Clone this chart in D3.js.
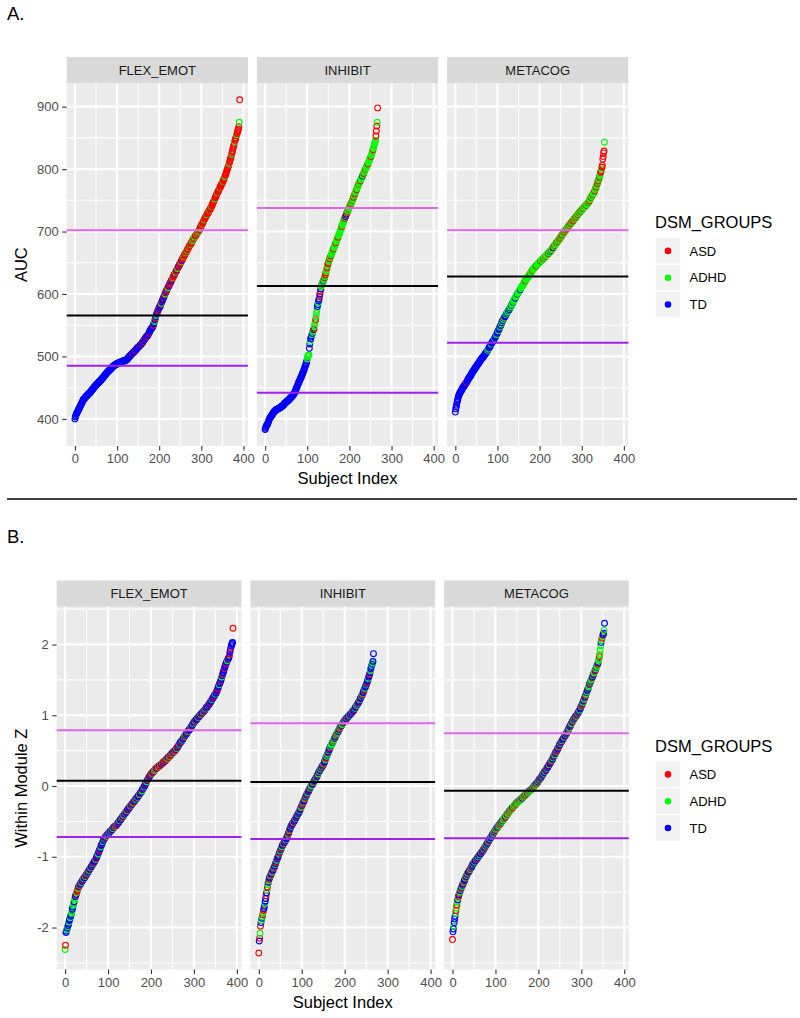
<!DOCTYPE html>
<html>
<head>
<meta charset="utf-8">
<script src="https://cdn.jsdelivr.net/npm/d3@7"></script>
<style>
body { margin: 0; background: #fff; }
svg { display: block; }
</style>
</head>
<body>
<script>
var w = 800
var h = 1018
var font = "'Liberation Sans', Arial, Helvetica, sans-serif"

var facets = ["FLEX_EMOT", "INHIBIT", "METACOG"]
var groupNames = ["ASD", "ADHD", "TD"]
var groupCodes = ["A", "H", "T"]
var groupColors = {A: "#FF0000", H: "#00FF00", T: "#0000FF"}
var lineColors = ["#E066EE", "#000000", "#A020F0"] // upper, middle, lower

var xTicks = [0, 100, 200, 300, 400]
var aucTicks = [400, 500, 600, 700, 800, 900]
var zTicks = [-2, -1, 0, 1, 2]

// ---- A. AUC, sorted per module (one value per subject) ----
var aucFlex = [
400,403,405,407,409,410,411,413,414,416, 417,418,419,421,422,424,425,426,428,430,
431,431,432,433,434,435,435,436,437,438, 438,439,440,440,441,442,442,443,444,445,
446,447,447,448,449,450,451,452,452,453, 454,455,455,456,457,457,458,459,460,460,
461,462,462,463,464,465,466,466,467,468, 469,470,471,471,472,473,474,475,475,476,
477,477,478,479,479,480,481,481,482,483, 484,484,485,485,486,486,487,487,487,488,
488,489,489,489,490,490,490,490,491,491, 491,491,492,492,492,493,493,493,493,494,
494,494,494,495,495,496,497,498,499,500, 500,501,502,503,503,504,505,505,506,507,
507,508,509,509,510,511,512,512,513,514, 515,515,516,517,517,518,519,519,520,521,
522,523,524,525,526,527,528,529,530,531, 532,532,533,534,535,537,537,539,541,542,
543,544,545,546,547,548,550,552,554,556, 559,561,564,566,568,570,572,573,575,577,
578,580,580,582,584,585,587,589,590,592, 594,595,597,599,600,602,603,605,606,608,
609,610,612,613,615,616,617,619,620,622, 623,624,626,627,628,630,631,632,634,635,
636,637,639,640,641,643,644,645,647,648, 649,651,652,653,654,656,657,658,660,661,
662,664,665,666,667,668,670,671,672,673, 675,676,677,678,679,680,681,683,684,685,
687,688,689,690,691,692,693,694,695,696, 697,698,699,700,701,702,704,705,707,708,
710,711,712,713,715,716,718,719,720,722, 723,724,725,727,728,729,730,731,733,734,
735,736,737,738,740,741,743,745,746,748, 749,751,752,754,755,757,759,760,762,763,
764,766,767,769,770,771,773,774,776,777, 778,780,781,783,785,786,788,790,792,794,
796,798,800,802,804,806,809,811,814,816, 818,821,824,826,829,832,835,838,841,844,
846,848,850,853,855,857,860,862,864,868, 875,911]

var aucInhibit = [
383,385,387,389,390,391,392,394,396,398, 400,401,402,403,404,405,406,407,408,409,
410,411,412,413,413,414,414,415,415,416, 416,416,417,417,417,418,418,419,419,420,
420,421,421,422,422,423,425,425,426,426, 427,427,428,429,429,430,430,431,432,433,
433,434,435,435,436,437,438,439,440,441, 442,443,445,447,449,450,452,454,455,457,
459,460,462,463,465,466,468,469,471,473, 474,476,478,480,482,484,486,488,490,493,
496,500,501,502,503,513,520,524,528,531, 533,535,537,539,541,543,544,549,553,556,
559,564,570,575,580,583,586,589,592,596, 600,604,608,612,614,616,617,619,621,622,
624,626,628,631,634,636,639,642,645,648, 650,652,654,656,658,660,661,663,665,666,
668,670,672,674,675,677,679,681,682,684, 686,688,689,691,693,695,696,698,700,702,
704,706,708,710,712,714,716,718,719,721, 723,724,726,728,730,731,733,734,736,737,
739,740,742,743,745,746,748,750,751,753, 755,757,758,760,762,764,765,767,769,771,
773,774,776,777,779,780,781,783,784,786, 787,789,790,792,793,795,797,798,800,801,
803,804,806,807,808,810,812,813,815,817, 818,820,822,824,826,829,831,833,836,839,
841,843,846,853,861,869,875,898]

var aucMeta = [
411,416,419,422,426,429,432,435,437,439, 440,442,443,444,445,446,448,449,450,451,
452,453,454,455,456,457,458,459,460,462, 463,464,465,466,467,468,469,470,471,473,
474,475,476,477,478,479,480,481,482,483, 484,485,486,487,488,489,490,491,492,493,
494,495,496,497,498,498,499,500,501,502, 503,504,505,506,507,508,509,510,511,512,
514,515,516,517,518,520,521,522,523,524, 525,526,527,529,530,531,533,534,535,537,
538,540,541,543,544,546,547,549,550,552, 554,556,557,558,559,561,562,563,564,565,
567,568,569,570,571,572,573,574,575,577, 578,579,580,582,583,584,586,587,588,590,
591,592,593,595,596,597,599,600,601,602, 603,604,605,606,607,609,610,611,612,613,
614,615,616,618,619,620,621,622,623,624, 625,626,627,628,629,630,631,632,633,634,
635,636,637,638,639,640,641,641,642,643, 644,645,645,646,647,648,648,649,650,650,
651,652,652,653,654,654,655,656,656,657, 658,658,659,660,660,661,662,663,663,664,
665,665,666,667,667,668,669,669,670,671, 672,673,674,675,676,677,678,679,680,681,
682,683,683,684,685,686,687,688,689,690, 691,692,693,694,695,696,697,698,699,700,
701,702,702,703,704,705,706,707,708,709, 710,710,711,712,713,714,715,715,716,717,
718,719,720,721,721,722,723,724,725,726, 727,727,728,729,730,731,731,732,733,734,
735,735,736,737,738,738,739,740,740,741, 742,742,743,744,745,746,747,748,749,751,
752,753,755,756,757,758,759,760,761,762, 764,765,767,769,771,773,775,777,779,781,
783,785,787,789,792,795,797,800,803,806, 816,820,826,829,843]

// group of each subject in the same order (A = ASD, H = ADHD, T = TD)
var aucFlexGrp = [
"TTTTTTTTTT","TTTTTTTTTT","TTTTTTTTTT","TTTTTTTTTT","TTTTTTTTTT","TTTTTTTTTT","TTTTTTTTTT",
"TTTTTTTTTT","TTTTTTTTTT","TTTTTTTTTT","TTTTTTTTTT","TTTTTTTTTT","TTTTTTTTTT",
"TTTTTTTATT","TTTTATTTTT","TTTATTTTAT","TTATTTATTT","TATTTTATTT","TTTTTTATTH",
"TATHTTTATA","TATTAHTATT","ATTAHTATAT","AHATATAATA","TAHAAATAAH","AATAHATAAT",
"AAHATAAAHA","AAAHAAHAAA","HAAAHAAAAH","AHAAHHAAAH","AAHAHAAHAA","AAHAAAAHAA",
"AAAHAAAAAH","AAAAHAAAAA","AAHAAAAAHA","AAAAHAAAAA","AHAAAAHAAA","AAAAAAHAAA",
"AAHAAAAAAH","AAAAHAAAAA","HA"].join("")

var aucInhibitGrp = [
"TTTTTTTTTT","TTTTTTTTTT","TTTTTTTTTT","TTTTTTTTTT","TTTTTTTTTT",
"TTTTTTTTTT","TTTTTTTTTT","TTTTTTTTTT","TTTTTTTTTT","TTTTTTTTTT",
"HHHHHTTHTT","THTHHTAHHH","AHHHTTHTTA","TATHHTHHTH","HAHAAHHAHA","AHHAHHAHHH",
"HHAHHHHHAH","HHHAHHHHHH","HHAHHHHHHA","HTATHAHHAH","HHAHAHHAHH","AHHAHHHAHH",
"HHAHHHAHHH","HTHHAHHHAH","HHHHAHHHHH","HAHHHHAHHH","HHHAAAHA"].join("")

var aucMetaGrp = [
"TTTTTTTTTT","TTTTTTTTTT","TTTTTTTATT","TTTTTTTTTT","TTTTTTTTTT","TTTTTTTTTT","TTTTTTTTTT",
"TTTTTTTHTH","TTTTTHTTTT","TTTHTTTTHT","TTHTTTHTTH","THTTHTHATT","HTHTHHTHTH",
"THHTHHHTHH","HHTHHHHTHH","HHHHTHHHHH","HHHHHHAHHH","HHHHHHHHAH","HHHAHHHHHH",
"HHAHHHHHHH","HHHAHHHHHA","HHHHAHHHHH","HAHHHTHHAH","HHTAHHAHHH","AHHAHHHAHA",
"HHAHAHHHAH","AHHAHAHHAH","HAHHAHAHHA","AHAHHAHAHH","HAHHAHHAHH","AHHAHHHAHH",
"HAHHHAHHAH","HHAHHHAHHH","HAHHAHHAHA","HHAHHAAHAA","AAAAH"].join("")

// reference lines per module: upper, middle, lower
var aucLines = [[702, 565.6, 485], [737.6, 613, 441.8], [702, 628, 522]]

// ---- B. Within Module Z, sorted per module ----
var zFlex = [
-2.31,-2.25,-2.07,-2.05,-2.03,-2.01,-1.99,-1.97,-1.95,-1.92, -1.90,-1.88,-1.86,-1.84,-1.82,-1.80,-1.77,-1.74,-1.71,-1.68,
-1.66,-1.64,-1.61,-1.58,-1.56,-1.54,-1.53,-1.51,-1.49,-1.47, -1.45,-1.43,-1.42,-1.41,-1.40,-1.39,-1.38,-1.37,-1.36,-1.35,
-1.34,-1.33,-1.32,-1.31,-1.30,-1.30,-1.29,-1.28,-1.27,-1.26, -1.25,-1.24,-1.23,-1.22,-1.21,-1.20,-1.19,-1.18,-1.17,-1.16,
-1.15,-1.14,-1.13,-1.12,-1.11,-1.10,-1.09,-1.08,-1.07,-1.06, -1.05,-1.04,-1.03,-1.01,-1.00,-0.98,-0.97,-0.96,-0.94,-0.92,
-0.91,-0.89,-0.88,-0.86,-0.84,-0.83,-0.81,-0.80,-0.78,-0.77, -0.76,-0.75,-0.74,-0.73,-0.72,-0.71,-0.71,-0.70,-0.69,-0.68,
-0.68,-0.67,-0.66,-0.66,-0.65,-0.64,-0.64,-0.63,-0.62,-0.62, -0.61,-0.60,-0.60,-0.59,-0.58,-0.58,-0.57,-0.57,-0.56,-0.56,
-0.55,-0.54,-0.53,-0.53,-0.52,-0.51,-0.50,-0.49,-0.48,-0.48, -0.47,-0.46,-0.45,-0.44,-0.43,-0.43,-0.42,-0.41,-0.40,-0.39,
-0.38,-0.38,-0.37,-0.36,-0.35,-0.34,-0.33,-0.33,-0.32,-0.31, -0.30,-0.29,-0.29,-0.28,-0.27,-0.26,-0.25,-0.25,-0.24,-0.23,
-0.22,-0.22,-0.21,-0.20,-0.19,-0.18,-0.18,-0.17,-0.16,-0.15, -0.14,-0.14,-0.13,-0.12,-0.11,-0.10,-0.09,-0.08,-0.08,-0.07,
-0.05,-0.04,-0.03,-0.02,-0.01,0.00,0.01,0.03,0.04,0.05, 0.06,0.08,0.09,0.10,0.11,0.12,0.13,0.14,0.15,0.16,
0.17,0.17,0.18,0.19,0.19,0.20,0.21,0.21,0.22,0.23, 0.24,0.24,0.25,0.25,0.26,0.26,0.27,0.27,0.28,0.28,
0.29,0.29,0.30,0.30,0.31,0.31,0.32,0.33,0.33,0.34, 0.34,0.35,0.35,0.36,0.36,0.37,0.38,0.38,0.39,0.40,
0.40,0.41,0.41,0.42,0.43,0.43,0.44,0.45,0.45,0.46, 0.47,0.47,0.48,0.48,0.49,0.50,0.50,0.51,0.52,0.53,
0.53,0.54,0.55,0.56,0.57,0.58,0.59,0.60,0.61,0.62, 0.63,0.63,0.64,0.65,0.66,0.67,0.68,0.69,0.70,0.71,
0.72,0.73,0.73,0.74,0.75,0.76,0.77,0.78,0.79,0.80, 0.80,0.81,0.82,0.83,0.84,0.85,0.86,0.87,0.88,0.89,
0.90,0.91,0.91,0.92,0.93,0.93,0.94,0.95,0.96,0.96, 0.97,0.98,0.98,0.99,1.00,1.00,1.01,1.02,1.02,1.03,
1.04,1.04,1.05,1.06,1.06,1.07,1.08,1.09,1.10,1.11, 1.11,1.12,1.13,1.14,1.14,1.15,1.16,1.17,1.18,1.19,
1.20,1.21,1.22,1.23,1.24,1.25,1.26,1.27,1.28,1.29, 1.30,1.31,1.32,1.34,1.35,1.37,1.38,1.40,1.42,1.43,
1.45,1.46,1.48,1.50,1.52,1.54,1.56,1.58,1.60,1.62, 1.64,1.66,1.68,1.70,1.72,1.73,1.75,1.76,1.77,1.79,
1.80,1.81,1.83,1.86,1.90,1.93,1.95,1.98,2.00,2.02, 2.03,2.23]

var zInhibit = [
-2.36,-2.19,-2.15,-2.08,-1.98,-1.93,-1.90,-1.87,-1.85,-1.82, -1.79,-1.76,-1.73,-1.70,-1.66,-1.63,-1.59,-1.55,-1.51,-1.47,
-1.43,-1.39,-1.36,-1.34,-1.32,-1.30,-1.28,-1.27,-1.26,-1.24, -1.23,-1.22,-1.20,-1.19,-1.17,-1.16,-1.15,-1.13,-1.11,-1.10,
-1.08,-1.06,-1.05,-1.03,-1.01,-1.00,-0.98,-0.96,-0.95,-0.93, -0.92,-0.90,-0.89,-0.87,-0.86,-0.84,-0.83,-0.82,-0.81,-0.80,
-0.79,-0.78,-0.77,-0.76,-0.75,-0.73,-0.72,-0.70,-0.68,-0.67, -0.65,-0.63,-0.62,-0.60,-0.58,-0.57,-0.56,-0.55,-0.54,-0.53,
-0.52,-0.51,-0.50,-0.49,-0.48,-0.47,-0.46,-0.45,-0.43,-0.42, -0.41,-0.40,-0.39,-0.38,-0.37,-0.35,-0.34,-0.32,-0.31,-0.30,
-0.28,-0.27,-0.25,-0.24,-0.23,-0.21,-0.20,-0.18,-0.17,-0.15, -0.14,-0.13,-0.12,-0.11,-0.10,-0.08,-0.07,-0.06,-0.04,-0.03,
-0.02,-0.01,0.00,0.01,0.02,0.03,0.03,0.05,0.06,0.07, 0.08,0.09,0.10,0.11,0.12,0.13,0.15,0.16,0.17,0.19,
0.20,0.21,0.22,0.23,0.24,0.25,0.26,0.27,0.28,0.29, 0.30,0.31,0.32,0.34,0.36,0.37,0.39,0.41,0.42,0.44,
0.45,0.47,0.48,0.50,0.51,0.53,0.54,0.56,0.57,0.58, 0.59,0.60,0.62,0.63,0.64,0.65,0.67,0.68,0.69,0.71,
0.72,0.73,0.74,0.75,0.76,0.77,0.79,0.80,0.81,0.83, 0.84,0.85,0.85,0.86,0.87,0.88,0.89,0.90,0.91,0.92,
0.92,0.93,0.94,0.95,0.95,0.96,0.97,0.97,0.98,0.99, 0.99,1.00,1.01,1.01,1.02,1.03,1.03,1.04,1.05,1.06,
1.06,1.07,1.08,1.09,1.10,1.11,1.12,1.13,1.14,1.15, 1.16,1.17,1.18,1.19,1.20,1.22,1.23,1.24,1.25,1.27,
1.28,1.29,1.31,1.32,1.34,1.35,1.37,1.38,1.40,1.41, 1.43,1.44,1.46,1.48,1.50,1.52,1.54,1.56,1.58,1.60,
1.63,1.66,1.69,1.71,1.72,1.74,1.76,1.87]

var zMeta = [
-2.17,-2.06,-2.02,-1.98,-1.93,-1.88,-1.84,-1.80,-1.76,-1.72, -1.68,-1.64,-1.61,-1.58,-1.56,-1.54,-1.52,-1.50,-1.48,-1.46,
-1.45,-1.43,-1.42,-1.40,-1.39,-1.38,-1.36,-1.35,-1.33,-1.32, -1.30,-1.29,-1.28,-1.26,-1.25,-1.24,-1.23,-1.22,-1.21,-1.20,
-1.19,-1.18,-1.17,-1.16,-1.15,-1.14,-1.12,-1.11,-1.10,-1.09, -1.08,-1.08,-1.07,-1.06,-1.05,-1.04,-1.03,-1.03,-1.02,-1.01,
-1.00,-0.99,-0.98,-0.98,-0.97,-0.96,-0.95,-0.94,-0.93,-0.93, -0.92,-0.91,-0.90,-0.89,-0.88,-0.87,-0.86,-0.85,-0.84,-0.83,
-0.82,-0.81,-0.80,-0.79,-0.78,-0.77,-0.76,-0.75,-0.74,-0.73, -0.72,-0.71,-0.70,-0.69,-0.68,-0.67,-0.66,-0.65,-0.64,-0.63,
-0.62,-0.61,-0.60,-0.60,-0.59,-0.58,-0.57,-0.56,-0.56,-0.55, -0.54,-0.53,-0.53,-0.52,-0.51,-0.50,-0.49,-0.48,-0.48,-0.47,
-0.46,-0.45,-0.44,-0.44,-0.43,-0.42,-0.41,-0.40,-0.40,-0.39, -0.38,-0.37,-0.36,-0.35,-0.35,-0.34,-0.33,-0.32,-0.32,-0.31,
-0.30,-0.30,-0.29,-0.28,-0.28,-0.27,-0.26,-0.26,-0.25,-0.24, -0.24,-0.23,-0.23,-0.22,-0.21,-0.21,-0.20,-0.20,-0.19,-0.19,
-0.18,-0.18,-0.17,-0.17,-0.16,-0.15,-0.15,-0.14,-0.14,-0.13, -0.13,-0.12,-0.11,-0.11,-0.10,-0.10,-0.09,-0.08,-0.08,-0.07,
-0.07,-0.06,-0.06,-0.05,-0.05,-0.04,-0.03,-0.03,-0.02,-0.01, 0.00,0.00,0.01,0.02,0.02,0.03,0.04,0.04,0.05,0.06,
0.07,0.08,0.09,0.10,0.10,0.11,0.12,0.13,0.14,0.15, 0.16,0.17,0.18,0.19,0.20,0.21,0.21,0.22,0.23,0.24,
0.25,0.26,0.27,0.28,0.29,0.30,0.31,0.32,0.33,0.34, 0.35,0.36,0.37,0.38,0.40,0.41,0.42,0.43,0.44,0.46,
0.47,0.48,0.49,0.50,0.51,0.53,0.54,0.55,0.56,0.58, 0.59,0.60,0.61,0.62,0.63,0.64,0.65,0.66,0.67,0.68,
0.69,0.70,0.71,0.72,0.73,0.74,0.75,0.76,0.77,0.79, 0.80,0.81,0.82,0.84,0.85,0.86,0.87,0.88,0.90,0.91,
0.92,0.93,0.94,0.95,0.96,0.97,0.98,0.98,0.99,1.00, 1.01,1.02,1.03,1.04,1.05,1.06,1.07,1.09,1.10,1.12,
1.13,1.14,1.15,1.17,1.18,1.20,1.22,1.23,1.25,1.27, 1.28,1.30,1.32,1.33,1.35,1.37,1.38,1.40,1.42,1.44,
1.45,1.47,1.48,1.50,1.51,1.53,1.54,1.56,1.57,1.59, 1.60,1.62,1.63,1.64,1.66,1.68,1.69,1.71,1.72,1.74,
1.77,1.80,1.83,1.86,1.92,1.98,2.03,2.06,2.09,2.11, 2.13,2.14,2.16,2.20,2.30]

var zFlexGrp = [
"HATTHTHTTH","TTHTTHHTTH","HTHHTATHAA","HATAHTTAHT","TATHATTHAT","ATHTTAHTTA",
"HTTATHTATT","THATTATHTT","ATTHTTATHT","THTATTHATT","HTATHTTAHT","TAHTTATHTA",
"ATHTATTHAT","TATHTTAHTT","HATTHATTAT","TTAHTATTHA","TATTHTATHT","ATTHATTATH",
"TTATHTTATT","HTAATHTATA","ATHAATTAHA","AHATAATHAA","TAHAATAHTA","AATHATAAHT",
"ATAHTAATAH","TAATHTAATA","HTATATHTAT","TATHTTATHT","AHTTATHTAT","TTAHTATTHT",
"ATTHTATTAT","HTTATTHTAT","TAHTTATHTT","ATTHTATTAT","TTHTATTATT","HTTATTATTH",
"TTATTHTATT","TATTTATTHT","ATTATTATTT","TA"].join("")

var zInhibitGrp = [
"ATAHATHTHA","HATTHTTATH","AHTHATTHAT","THATTHATHT","ATHTATTHAT","HTATHTTAHT",
"TATHTTATHA","THATTHTATT","AHTTATHTAT","THTATHTTAH","TATHATTHAT","HTATHTATTH",
"ATHHATTHAT","THATHTATHT","AHTTHATHTA","THATTHATHT","HATHTTAHTH","HHTHAHTHTA",
"HTHAHTHTAH","THATHHTAHT","ATHTTAHTAT","THATTHTATH","TTATHTTAHT","HTATTHATTH",
"TAHTTATHTT","HTATTHTTAT","HTTHTHTT"].join("")

var zMetaGrp = [
"ATTHTTTHAH","AHTHATAHTH","ATHTATHATT","HATHTAHTTA","THATHTATHT","ATHTTAHTAT",
"HTATHTTAHT","TATHTATHAT","HTTAHTATHT","THATTHATHT","AHTHATHTHA","HTAHTHATHH",
"AHHTAHHTAH","HAHTHAHHAH","TAHHAHHAHT","HAHHAHTHAH","HAHTHAHHAT","HAHHTAHAHT",
"HAHTHAHTAH","TAHTHATHAT","HTATHTATHT","ATHTTAHTAT","HTATTHATTA","THATHTATHT",
"ATHTATTHAT","THTATHTATT","HATTHTATHT","TAHTTATHTA","THATHTTAHT","ATHTATHTTA",
"HTATHTAHTT","AHTHTATHHT","AHTHHATHTA","HHTAHTHHAT","HHAHHHTHAH","ATTHT"].join("")

var zLines = [[0.79, 0.075, -0.72], [0.887, 0.056, -0.75], [0.746, -0.066, -0.737]]

var svg = d3.select("body")
            .append("svg")
            .attr("width", w)
            .attr("height", h)
            .style("font-family", font)

var stripH = 26.3
var panelH = 362.7

function drawPanel(p) {
  var g = svg.append("g")
  var panelTop = p.top + stripH
  var panelBottom = panelTop + panelH

  // fixed scales across the three facets, ggplot style 5% expansion
  var all = d3.merge(p.values.concat(p.lines))
  var ext = d3.extent(all)
  var pad = (ext[1] - ext[0]) * 0.05
  var y = d3.scaleLinear()
            .domain([ext[0] - pad, ext[1] + pad])
            .range([panelBottom, panelTop])

  var maxN = d3.max(p.values, function(v) { return v.length - 1 })
  var xDomain = [-maxN * 0.05, maxN * 1.05]

  var yStep = p.yTicks[1] - p.yTicks[0]
  var yMinor = d3.range(p.yTicks[0] - yStep / 2, p.yTicks[p.yTicks.length - 1] + yStep, yStep)
                 .filter(function(d) { return d >= y.domain()[0] && d <= y.domain()[1] })
  var xMinor = d3.range(xTicks[0] - 50, 500, 100)
                 .filter(function(d) { return d >= xDomain[0] && d <= xDomain[1] })

  facets.forEach(function(name, k) {
    var x0 = p.left + k * (p.facetW + p.gap)
    var x = d3.scaleLinear().domain(xDomain).range([x0, x0 + p.facetW])

    // strip
    g.append("rect")
      .attr("x", x0).attr("y", p.top)
      .attr("width", p.facetW).attr("height", stripH)
      .attr("fill", "#D9D9D9")
    g.append("text")
      .text(name)
      .attr("x", x0 + p.facetW / 2)
      .attr("y", p.top + stripH / 2)
      .attr("dy", "0.36em")
      .attr("text-anchor", "middle")
      .attr("fill", "#1A1A1A")
      .attr("font-size", "13px")

    // panel background
    g.append("rect")
      .attr("x", x0).attr("y", panelTop)
      .attr("width", p.facetW).attr("height", panelH)
      .attr("fill", "#EBEBEB")

    // minor grid
    g.selectAll(null).data(yMinor).enter().append("line")
      .attr("x1", x0).attr("x2", x0 + p.facetW)
      .attr("y1", function(d) { return y(d) }).attr("y2", function(d) { return y(d) })
      .attr("stroke", "#fff").attr("stroke-width", 1.05)
    g.selectAll(null).data(xMinor).enter().append("line")
      .attr("y1", panelTop).attr("y2", panelBottom)
      .attr("x1", function(d) { return x(d) }).attr("x2", function(d) { return x(d) })
      .attr("stroke", "#fff").attr("stroke-width", 1.05)

    // major grid
    g.selectAll(null).data(p.yTicks).enter().append("line")
      .attr("x1", x0).attr("x2", x0 + p.facetW)
      .attr("y1", function(d) { return y(d) }).attr("y2", function(d) { return y(d) })
      .attr("stroke", "#fff").attr("stroke-width", 2.1)
    g.selectAll(null).data(xTicks).enter().append("line")
      .attr("y1", panelTop).attr("y2", panelBottom)
      .attr("x1", function(d) { return x(d) }).attr("x2", function(d) { return x(d) })
      .attr("stroke", "#fff").attr("stroke-width", 2.1)

    // points
    var vals = p.values[k]
    var grp = p.groups[k]
    g.append("g").selectAll("circle")
      .data(vals)
      .enter().append("circle")
      .attr("cx", function(d, i) { return x(i) })
      .attr("cy", function(d) { return y(d) })
      .attr("r", 2.9)
      .attr("fill", "none")
      .attr("stroke", function(d, i) { return groupColors[grp.charAt(i)] || groupColors.T })
      .attr("stroke-width", 1.1)

    // reference lines
    g.selectAll(null).data(p.lines[k]).enter().append("line")
      .attr("x1", x0).attr("x2", x0 + p.facetW)
      .attr("y1", function(d) { return y(d) }).attr("y2", function(d) { return y(d) })
      .attr("stroke", function(d, i) { return lineColors[i] })
      .attr("stroke-width", 2)

    // x axis
    var xa = g.append("g")
      .attr("transform", "translate(0," + panelBottom + ")")
      .call(d3.axisBottom(x).tickValues(xTicks).tickSize(4.5).tickPadding(3.5))
    xa.select(".domain").remove()
    xa.attr("font-family", font).attr("font-size", 13)
    xa.selectAll("line").attr("stroke", "#333333").attr("stroke-width", 1.1)
    xa.selectAll("text").attr("fill", "#4D4D4D")
  })

  // y axis on first facet
  var ya = g.append("g")
    .attr("transform", "translate(" + p.left + ",0)")
    .call(d3.axisLeft(y).tickValues(p.yTicks).tickSize(4.5).tickPadding(3.5)
      .tickFormat(function(d) { return String(d) }))
  ya.select(".domain").remove()
  ya.attr("font-family", font).attr("font-size", 13)
  ya.selectAll("line").attr("stroke", "#333333").attr("stroke-width", 1.1)
  ya.selectAll("text").attr("fill", "#4D4D4D")

  // axis titles
  var right = p.left + 3 * p.facetW + 2 * p.gap
  g.append("text")
    .text("Subject Index")
    .attr("x", (p.left + right) / 2)
    .attr("y", panelBottom + 38)
    .attr("text-anchor", "middle")
    .attr("font-size", "16.5px")
    .attr("fill", "#000")
  g.append("text")
    .text(p.yTitle)
    .attr("transform", "translate(26.5," + (panelTop + panelH / 2) + ") rotate(-90)")
    .attr("text-anchor", "middle")
    .attr("font-size", "16.5px")
    .attr("fill", "#000")

  // panel label
  g.append("text")
    .text(p.label)
    .attr("x", 7)
    .attr("y", p.labelY)
    .attr("font-size", "18.5px")
    .attr("fill", "#000")

  // legend
  var lx = 655, ly = p.top + 171
  g.append("text")
    .text("DSM_GROUPS")
    .attr("x", lx).attr("y", ly)
    .attr("font-size", "16.5px")
    .attr("fill", "#000")
  var keys = g.selectAll(null).data(groupNames).enter().append("g")
    .attr("transform", function(d, i) { return "translate(" + lx + "," + (ly + 9.5 + i * 26.8) + ")" })
  keys.append("rect")
    .attr("width", 26).attr("height", 26.8)
    .attr("fill", "#F2F2F2")
    .attr("stroke", "#fff").attr("stroke-width", 1.4)
  keys.append("circle")
    .attr("cx", 13).attr("cy", 13.4).attr("r", 3.3)
    .attr("fill", function(d, i) { return groupColors[groupCodes[i]] })
  keys.append("text")
    .text(function(d) { return d })
    .attr("x", 34.5).attr("y", 13.4)
    .attr("dy", "0.36em")
    .attr("font-size", "13px")
    .attr("fill", "#000")
}

drawPanel({
  label: "A.", labelY: 20,
  top: 57, left: 66.7, facetW: 181.2, gap: 9,
  values: [aucFlex, aucInhibit, aucMeta],
  groups: [aucFlexGrp, aucInhibitGrp, aucMetaGrp],
  lines: aucLines,
  yTicks: aucTicks,
  yTitle: "AUC"
})

// separator between the two figures
svg.append("line")
  .attr("x1", 7).attr("x2", 797)
  .attr("y1", 499).attr("y2", 499)
  .attr("stroke", "#000").attr("stroke-width", 1.6)

drawPanel({
  label: "B.", labelY: 543,
  top: 580.5, left: 56.7, facetW: 184.7, gap: 9,
  values: [zFlex, zInhibit, zMeta],
  groups: [zFlexGrp, zInhibitGrp, zMetaGrp],
  lines: zLines,
  yTicks: zTicks,
  yTitle: "Within Module Z"
})
</script>
</body>
</html>
